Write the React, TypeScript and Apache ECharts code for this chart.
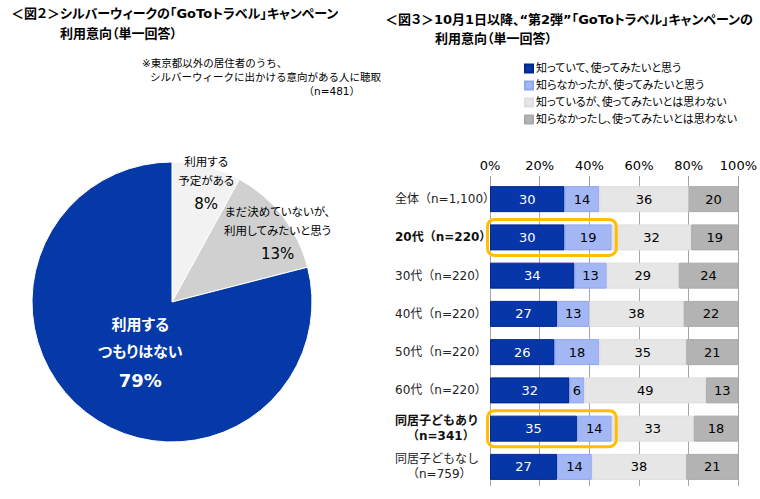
import React, { useEffect, useRef } from "react";
import * as echarts from "echarts";

const FONT = "'DejaVu Sans','Noto Sans CJK JP',sans-serif";

// ---- Pie (図2) ----
const pieNames = ["利用する\n予定がある", "まだ決めていないが、\n利用してみたいと思う", "利用する\nつもりはない"];
const pieValues = [8, 13, 79];
const pieColors = ["#f2f2f2", "#d0d0d0", "#0639a8"];
const pieLabelOffsets = [[16, -46], [48, -22], [13, -6]];

// ---- Bar (図3) ----
const categories = [
  "全体（n=1,100）",
  "20代（n=220）",
  "30代（n=220）",
  "40代（n=220）",
  "50代（n=220）",
  "60代（n=220）",
  "同居子どもあり\n（n=341）",
  "同居子どもなし\n（n=759）",
];
const boldRows = [1, 6];
const highlightRows = [1, 6];
const seriesNames = [
  "知っていて、使ってみたいと思う",
  "知らなかったが、使ってみたいと思う",
  "知っているが、使ってみたいとは思わない",
  "知らなかったし、使ってみたいとは思わない",
];
const knowAndUse = [30, 30, 34, 27, 26, 32, 35, 27];
const unknownAndUse = [14, 19, 13, 13, 18, 6, 14, 14];
const knowNoUse = [36, 32, 29, 38, 35, 49, 33, 38];
const unknownNoUse = [20, 19, 24, 22, 21, 13, 18, 21];
const seriesValues = [knowAndUse, unknownAndUse, knowNoUse, unknownNoUse];
const seriesColors = ["#0636a8", "#a4b7f5", "#e6e6e6", "#b3b3b3"];
const seriesBorders = ["#00278a", "#8ea6f0", "#dedede", "#aaaaaa"];
const seriesLabelColors = ["#ffffff", "#000000", "#000000", "#000000"];
const xTicks = [0, 20, 40, 60, 80, 100];

export default function App() {
  const ref = useRef<HTMLDivElement>(null);
  useEffect(() => {
    document.body.style.margin = "0";
    const styleEl = document.createElement("style");
    styleEl.textContent =
      '#root svg text { font-feature-settings: "palt" 1; }' +
      '#root svg text[fill="#222"], #root svg text[fill="#111"] { font-feature-settings: normal; }';
    document.head.appendChild(styleEl);
    if (!ref.current) return;
    const chart = echarts.init(ref.current, null, { renderer: "svg" });

    const catFormatter = (value: string, index: number) => {
      const bold = boldRows.includes(index);
      const lines = value.split("\n");
      return lines
        .map((l, i) => `{${bold ? "b" : "n"}${i > 0 ? "2" : ""}|${l}}`)
        .join("\n");
    };

    const titleStyle = { fontSize: 13, fontWeight: "bold", color: "#000", fontFamily: FONT };
    const option: any = {
      animation: false,
      textStyle: { fontFamily: FONT },
      title: [
        { text: "＜図２＞シルバーウィークの「GoToトラベル」キャンペーン", left: 6, top: 2, textStyle: titleStyle },
        { text: "利用意向（単一回答）", left: 55, top: 22, textStyle: titleStyle },
        { text: "＜図３＞10月1日以降、“第2弾”「GoToトラベル」キャンペーンの", left: 380, top: 8, textStyle: titleStyle },
        { text: "利用意向（単一回答）", left: 430, top: 27, textStyle: titleStyle },
      ],
      legend: {
        orient: "vertical",
        left: 519,
        top: 58,
        itemWidth: 8,
        itemHeight: 8,
        itemGap: 6,
        icon: "rect",
        data: seriesNames,
        textStyle: { fontSize: 11, color: "#000", fontFamily: FONT, padding: [0, 0, 0, -2] },
      },
      grid: { left: 490, top: 180, width: 249, height: 306 },
      xAxis: {
        type: "value",
        position: "top",
        min: 0,
        max: 100,
        interval: 20,
        axisLine: { show: false },
        axisTick: { show: true, length: 4, lineStyle: { color: "#999" } },
        splitLine: { show: true, lineStyle: { color: "#a6a6a6", width: 1 } },
        axisLabel: {
          formatter: (v: number) => (xTicks.includes(v) ? `${v}%` : ""),
          fontSize: 13,
          color: "#000",
          margin: 8,
          fontFamily: FONT,
        },
      },
      yAxis: {
        type: "category",
        inverse: true,
        data: categories,
        axisLine: { show: false },
        axisTick: { show: false },
        axisLabel: {
          align: "left",
          margin: 95,
          formatter: catFormatter,
          rich: {
            n: { fontSize: 12, color: "#222", fontFamily: FONT, lineHeight: 15 },
            n2: { fontSize: 12, color: "#222", fontFamily: FONT, lineHeight: 15, padding: [0, 0, 0, 12] },
            b: { fontSize: 12, color: "#111", fontWeight: "bold", fontFamily: FONT, lineHeight: 15 },
            b2: { fontSize: 12, color: "#111", fontWeight: "bold", fontFamily: FONT, lineHeight: 15, padding: [0, 0, 0, 12] },
          },
        },
      },
      series: [
        ...seriesNames.map((name, si) => ({
          type: "bar",
          name,
          stack: "total",
          barWidth: 26,
          data: seriesValues[si],
          itemStyle: { color: seriesColors[si], borderColor: seriesBorders[si], borderWidth: 1 },
          label: {
            show: true,
            position: "inside",
            color: seriesLabelColors[si],
            fontSize: 13,
            fontFamily: FONT,
          },
          emphasis: { disabled: true },
          z: 3,
        })),
        {
          type: "pie",
          center: [172, 302],
          radius: 140,
          startAngle: 90,
          clockwise: true,
          silent: true,
          legendHoverLink: false,
          avoidLabelOverlap: false,
          labelLayout: { hideOverlap: false },
          data: pieNames.map((name, i) => ({
            name,
            value: pieValues[i],
            itemStyle: { color: pieColors[i] },
            label: { offset: pieLabelOffsets[i] },
          })),
          itemStyle: { borderColor: "#ffffff", borderWidth: 1 },
          labelLine: { show: false },
          label: {
            show: true,
            position: "inside",
            formatter: (p: any) => {
              const white = p.dataIndex === 2;
              const t = white ? "tw" : "t";
              const pc = white ? "pw" : "p";
              return (
                (p.name as string).split("\n").map((l) => `{${t}|${l}}`).join("\n") +
                `\n{${pc}|${p.value}%}`
              );
            },
            rich: {
              t: { fontSize: 11.5, color: "#000", lineHeight: 19, fontFamily: FONT },
              p: { fontSize: 15, color: "#000", lineHeight: 28, fontFamily: FONT },
              tw: { fontSize: 15, color: "#fff", fontWeight: "bold", lineHeight: 27, fontFamily: FONT },
              pw: { fontSize: 18, color: "#fff", fontWeight: "bold", lineHeight: 30, fontFamily: FONT },
            },
          },
        },
      ],
    };
    chart.setOption(option);

    const graphics: any[] = [];
    const gNotes = [
      { text: "※東京都以外の居住者のうち、", x: 142, y: 63 },
      { text: "シルバーウィークに出かける意向がある人に聴取", x: 150, y: 77 },
    ];
    gNotes.forEach((n) =>
      graphics.push({
        type: "text",
        x: n.x,
        y: n.y,
        style: { text: n.text, fill: "#000", font: `10.5px ${FONT}`, textVerticalAlign: "middle" },
      })
    );
    graphics.push({
      type: "text",
      x: 360,
      y: 91,
      style: { text: "（n=481）", fill: "#000", font: `10.5px ${FONT}`, textAlign: "right", textVerticalAlign: "middle" },
    });
    // Highlight boxes around the first two segments of selected rows
    highlightRows.forEach((row) => {
      const end = knowAndUse[row] + unknownAndUse[row];
      const p0 = chart.convertToPixel({ xAxisIndex: 0, yAxisIndex: 0 }, [0, row]) as number[];
      const p1 = chart.convertToPixel({ xAxisIndex: 0, yAxisIndex: 0 }, [end, row]) as number[];
      if (!p0 || !p1) return;
      graphics.push({
        type: "rect",
        z: 100,
        shape: { x: p0[0] - 2.5, y: p0[1] - 18, width: p1[0] - p0[0] + 7, height: 36, r: 7 },
        style: { fill: "none", stroke: "#ffbf00", lineWidth: 3 },
      });
    });
    chart.setOption({ graphic: graphics });

    return () => {
      chart.dispose();
      styleEl.remove();
    };
  }, []);
  return <div ref={ref} style={{ width: 760, height: 499 }} />;
}
